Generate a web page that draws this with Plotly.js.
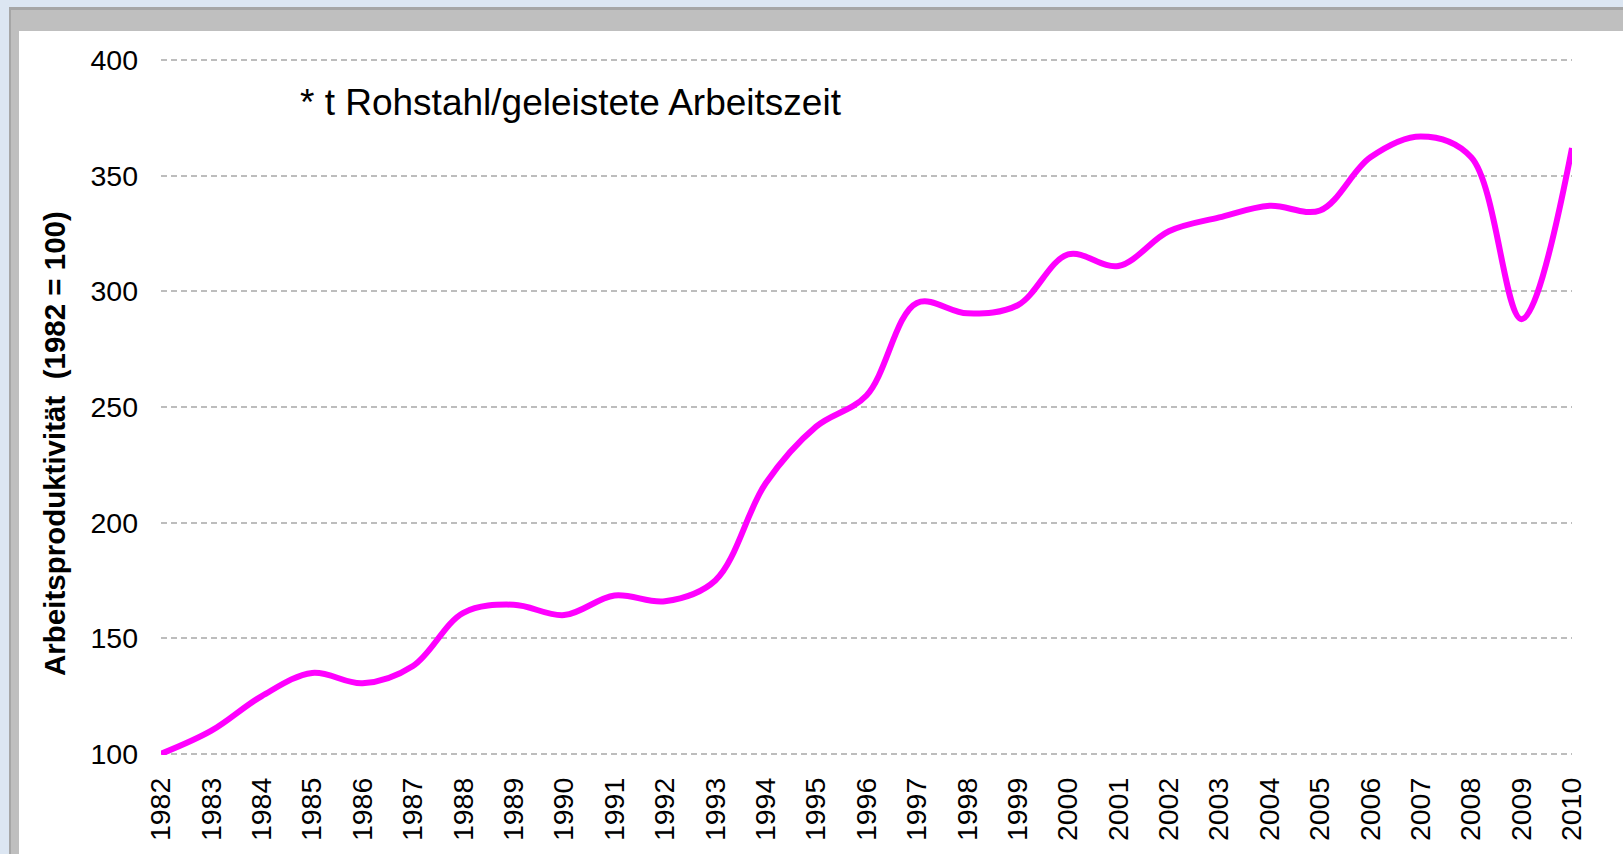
<!DOCTYPE html>
<html>
<head>
<meta charset="utf-8">
<script src="https://cdn.plot.ly/plotly-3.0.1.min.js"></script>
<style>
  html, body { margin: 0; padding: 0; width: 1623px; height: 854px; overflow: hidden; background: #DCE6F2; }
  #frame { position: absolute; left: 9px; top: 7px; right: 0; bottom: 0; background: #BFBFBF; border-top: 3px solid #A6A6A6; border-left: 2px solid #A6A6A6; }
  #inner { position: absolute; left: 19px; top: 31px; right: 0; bottom: 0; background: #FFFFFF; }
  #chart { position: absolute; left: 0; top: 0; width: 1623px; height: 854px; }
</style>
</head>
<body>
<div id="frame"></div>
<div id="inner"></div>
<div id="chart"></div>
<script>
// Data
const years = [1982, 1983, 1984, 1985, 1986, 1987, 1988, 1989, 1990, 1991,
               1992, 1993, 1994, 1995, 1996, 1997, 1998, 1999, 2000, 2001,
               2002, 2003, 2004, 2005, 2006, 2007, 2008, 2009, 2010];
const productivity = [100, 110, 125, 135, 130.5, 138, 161, 164.5, 160, 168.5,
                      166, 175, 217, 241.5, 255, 295, 290.5, 294, 316, 311,
                      326, 332, 337, 335, 358, 367, 358, 288, 362];
const yTicks = [100, 150, 200, 250, 300, 350, 400];
const yTitle = "Arbeitsproduktivität\u00a0 (1982 = 100)";
const noteText = "* t Rohstahl/geleistete Arbeitszeit";

const FONT = '"Liberation Sans", Arial, sans-serif';

const trace = {
  x: years,
  y: productivity,
  type: 'scatter',
  mode: 'lines',
  line: { color: '#FF00FF', width: 6, shape: 'spline', smoothing: 1 },
  hoverinfo: 'x+y'
};

const layout = {
  width: 1623,
  height: 854,
  autosize: false,
  margin: { l: 161, r: 51, t: 59, b: 99, pad: 0 },
  paper_bgcolor: 'rgba(0,0,0,0)',
  plot_bgcolor: 'rgba(0,0,0,0)',
  showlegend: false,
  font: { family: FONT, size: 28, color: '#000000' },
  xaxis: {
    range: [1982, 2010],
    tickmode: 'array',
    tickvals: years,
    ticktext: years.map(String),
    tickangle: -90,
    ticks: '',
    ticklabelstandoff: 16,
    showgrid: false,
    zeroline: false,
    showline: false,
    tickfont: { family: FONT, size: 28.5, color: '#000000' }
  },
  yaxis: {
    range: [99.5, 400.5],
    tickmode: 'array',
    tickvals: yTicks,
    ticktext: yTicks.map(String),
    ticks: '',
    ticklabelstandoff: 22,
    showgrid: true,
    gridcolor: '#BDBDBD',
    gridwidth: 2,
    griddash: '6px,4px',
    zeroline: false,
    showline: false,
    tickfont: { family: FONT, size: 28.5, color: '#000000' }
  },
  annotations: [
    {
      text: noteText,
      xref: 'paper', yref: 'paper',
      x: (298 - 161) / 1411, y: (755 - 103) / 696,
      xanchor: 'left', yanchor: 'middle',
      showarrow: false,
      font: { family: FONT, size: 37, color: '#000000' }
    },
    {
      text: '<b>' + yTitle + '</b>',
      xref: 'paper', yref: 'paper',
      x: (55 - 161) / 1411, y: (755 - 444) / 696,
      xanchor: 'center', yanchor: 'middle',
      textangle: -90,
      showarrow: false,
      font: { family: FONT, size: 29.5, color: '#000000' }
    }
  ]
};

Plotly.newPlot('chart', [trace], layout, { staticPlot: true, displayModeBar: false });
</script>
</body>
</html>
